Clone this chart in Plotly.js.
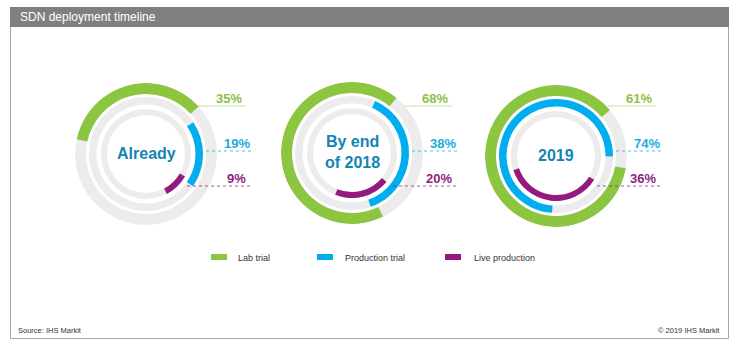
<!DOCTYPE html>
<html>
<head>
<meta charset="utf-8">
<script src="https://cdn.plot.ly/plotly-3.0.1.min.js"></script>
<style>
  html, body { margin: 0; padding: 0; background: #ffffff; }
  #chart { width: 741px; height: 353px; }
</style>
</head>
<body>
<div id="chart"></div>
<script>
// ---------------- data ----------------
const periods = ['Already', 'By end<br>of 2018', '2019'];
const seriesNames = ['Lab trial', 'Production trial', 'Live production'];
// percentages printed next to each ring
const labTrial = [35, 68, 61];
const productionTrial = [19, 38, 74];
const liveProduction = [9, 20, 36];
// length of the lab-trial ring as actually drawn in the source (%);
// the 2019 ring is drawn longer than its 61% label
const labTrialArc = [35, 68, 86];

// ---------------- layout config ----------------
const W = 741, H = 353;
const px = x => x / W;
const py = y => 1 - y / H;

const colors = { lab: '#8cc540', prod: '#00aeef', live: '#941a80', track: '#ececec' };
const labelColors = { lab: '#8fc049', prod: '#1eaade', live: '#8e1f7d' };
const centers = [[146, 154], [352, 153], [556, 156]];
const R = 71;
// ring geometry in px (base radius, thickness)
const rings = { lab: [60, 11], prod: [49.5, 7.5], live: [39, 6] };
// where each arc begins, degrees clockwise from 12 o'clock
const arcStart = { lab: [282, 154, 100], prod: [56, 24, 184], live: [120, 130, 122] };

const traces = [];
const layout = {
  width: W, height: H, autosize: false,
  margin: { l: 0, r: 0, t: 0, b: 0 },
  paper_bgcolor: '#ffffff',
  showlegend: false,
  font: { family: 'Liberation Sans, Arial, sans-serif', color: '#333333' },
  shapes: [],
  annotations: []
};

function arcTrace(sub, key, value, start) {
  return {
    type: 'barpolar', subplot: sub,
    r: [rings[key][1]], base: [rings[key][0]],
    theta: [start + value * 3.6 / 2], width: [value * 3.6],
    marker: { color: colors[key], line: { width: 0 } },
    hoverinfo: 'skip', showlegend: false
  };
}

periods.forEach((p, i) => {
  const sub = i === 0 ? 'polar' : 'polar' + (i + 1);
  const [cx, cy] = centers[i];
  layout[sub] = {
    domain: { x: [px(cx - R), px(cx + R)], y: [py(cy + R), py(cy - R)] },
    bgcolor: 'rgba(0,0,0,0)',
    radialaxis: { visible: false, range: [0, R] },
    angularaxis: { visible: false, direction: 'clockwise', rotation: 90 },
    hole: 0
  };
  // grey tracks
  traces.push({
    type: 'barpolar', subplot: sub,
    r: [rings.lab[1], rings.prod[1], rings.live[1], rings.lab[1], rings.prod[1], rings.live[1]],
    base: [rings.lab[0], rings.prod[0], rings.live[0], rings.lab[0], rings.prod[0], rings.live[0]],
    theta: [90, 90, 90, 270, 270, 270],
    width: [180.4, 180.4, 180.4, 180.4, 180.4, 180.4],
    marker: { color: colors.track, line: { width: 0 } },
    hoverinfo: 'skip', showlegend: false
  });
  traces.push(arcTrace(sub, 'lab', labTrialArc[i], arcStart.lab[i]));
  traces.push(arcTrace(sub, 'prod', productionTrial[i], arcStart.prod[i]));
  traces.push(arcTrace(sub, 'live', liveProduction[i], arcStart.live[i]));

  // centre label
  layout.annotations.push({
    xref: 'paper', yref: 'paper', x: px(cx), y: py(cy - 1),
    xanchor: 'center', yanchor: 'middle', showarrow: false,
    text: '<b>' + p + '</b>', font: { size: 16, color: '#1185b4' }
  });

  // value labels and leader lines
  const rows = [
    { key: 'lab', v: labTrial[i], ly: 106, ty: 98.5, x0: 52, x1: 100, tx: 98, dash: 'solid' },
    { key: 'prod', v: productionTrial[i], ly: 151, ty: 143.5, x0: 60, x1: 108, tx: 106, dash: 'dot' },
    { key: 'live', v: liveProduction[i], ly: 186, ty: 178.5, x0: 41, x1: 106, tx: 102, dash: 'dot' }
  ];
  rows.forEach(rw => {
    layout.shapes.push({
      type: 'line', xref: 'paper', yref: 'paper',
      x0: px(cx + rw.x0), x1: px(cx + rw.x1), y0: py(rw.ly), y1: py(rw.ly),
      line: { color: labelColors[rw.key], width: 1, dash: rw.dash },
      opacity: rw.key === 'lab' ? 0.5 : 0.75
    });
    layout.annotations.push({
      xref: 'paper', yref: 'paper', x: px(cx + rw.tx), y: py(rw.ty),
      xanchor: 'right', yanchor: 'middle', showarrow: false,
      text: '<b>' + rw.v + '%</b>', font: { size: 13, color: labelColors[rw.key] }
    });
  });
});

// frame and title bar
layout.shapes.push({
  type: 'rect', xref: 'paper', yref: 'paper', layer: 'below',
  x0: px(10.5), x1: px(728.5), y0: py(338.5), y1: py(8),
  line: { color: '#a6a6a6', width: 1 }, fillcolor: 'rgba(0,0,0,0)'
});
layout.shapes.push({
  type: 'rect', xref: 'paper', yref: 'paper', layer: 'below',
  x0: px(10), x1: px(729), y0: py(27), y1: py(7),
  line: { width: 0 }, fillcolor: '#7f7f7f'
});
layout.annotations.push({
  xref: 'paper', yref: 'paper', x: px(18), y: py(17),
  xanchor: 'left', yanchor: 'middle', showarrow: false,
  text: 'SDN deployment timeline', font: { size: 12, color: '#ffffff' }
});

// legend (custom)
const legendX = [[211, 236], [317, 343], [445, 472]];
const legendKeys = ['lab', 'prod', 'live'];
seriesNames.forEach((n, k) => {
  const [sx, tx] = legendX[k];
  layout.shapes.push({
    type: 'rect', xref: 'paper', yref: 'paper',
    x0: px(sx), x1: px(sx + 16), y0: py(260), y1: py(254),
    line: { width: 0 }, fillcolor: colors[legendKeys[k]]
  });
  layout.annotations.push({
    xref: 'paper', yref: 'paper', x: px(tx), y: py(258),
    xanchor: 'left', yanchor: 'middle', showarrow: false,
    text: n, font: { size: 9, color: '#333333' }
  });
});

// footer
layout.annotations.push({
  xref: 'paper', yref: 'paper', x: px(16), y: py(330),
  xanchor: 'left', yanchor: 'middle', showarrow: false,
  text: 'Source: IHS Markit', font: { size: 7.5, color: '#333333' }
});
layout.annotations.push({
  xref: 'paper', yref: 'paper', x: px(722), y: py(330),
  xanchor: 'right', yanchor: 'middle', showarrow: false,
  text: '© 2019 IHS Markit', font: { size: 7.5, color: '#333333' }
});

Plotly.newPlot('chart', traces, layout, { staticPlot: true, displayModeBar: false });
</script>
</body>
</html>
